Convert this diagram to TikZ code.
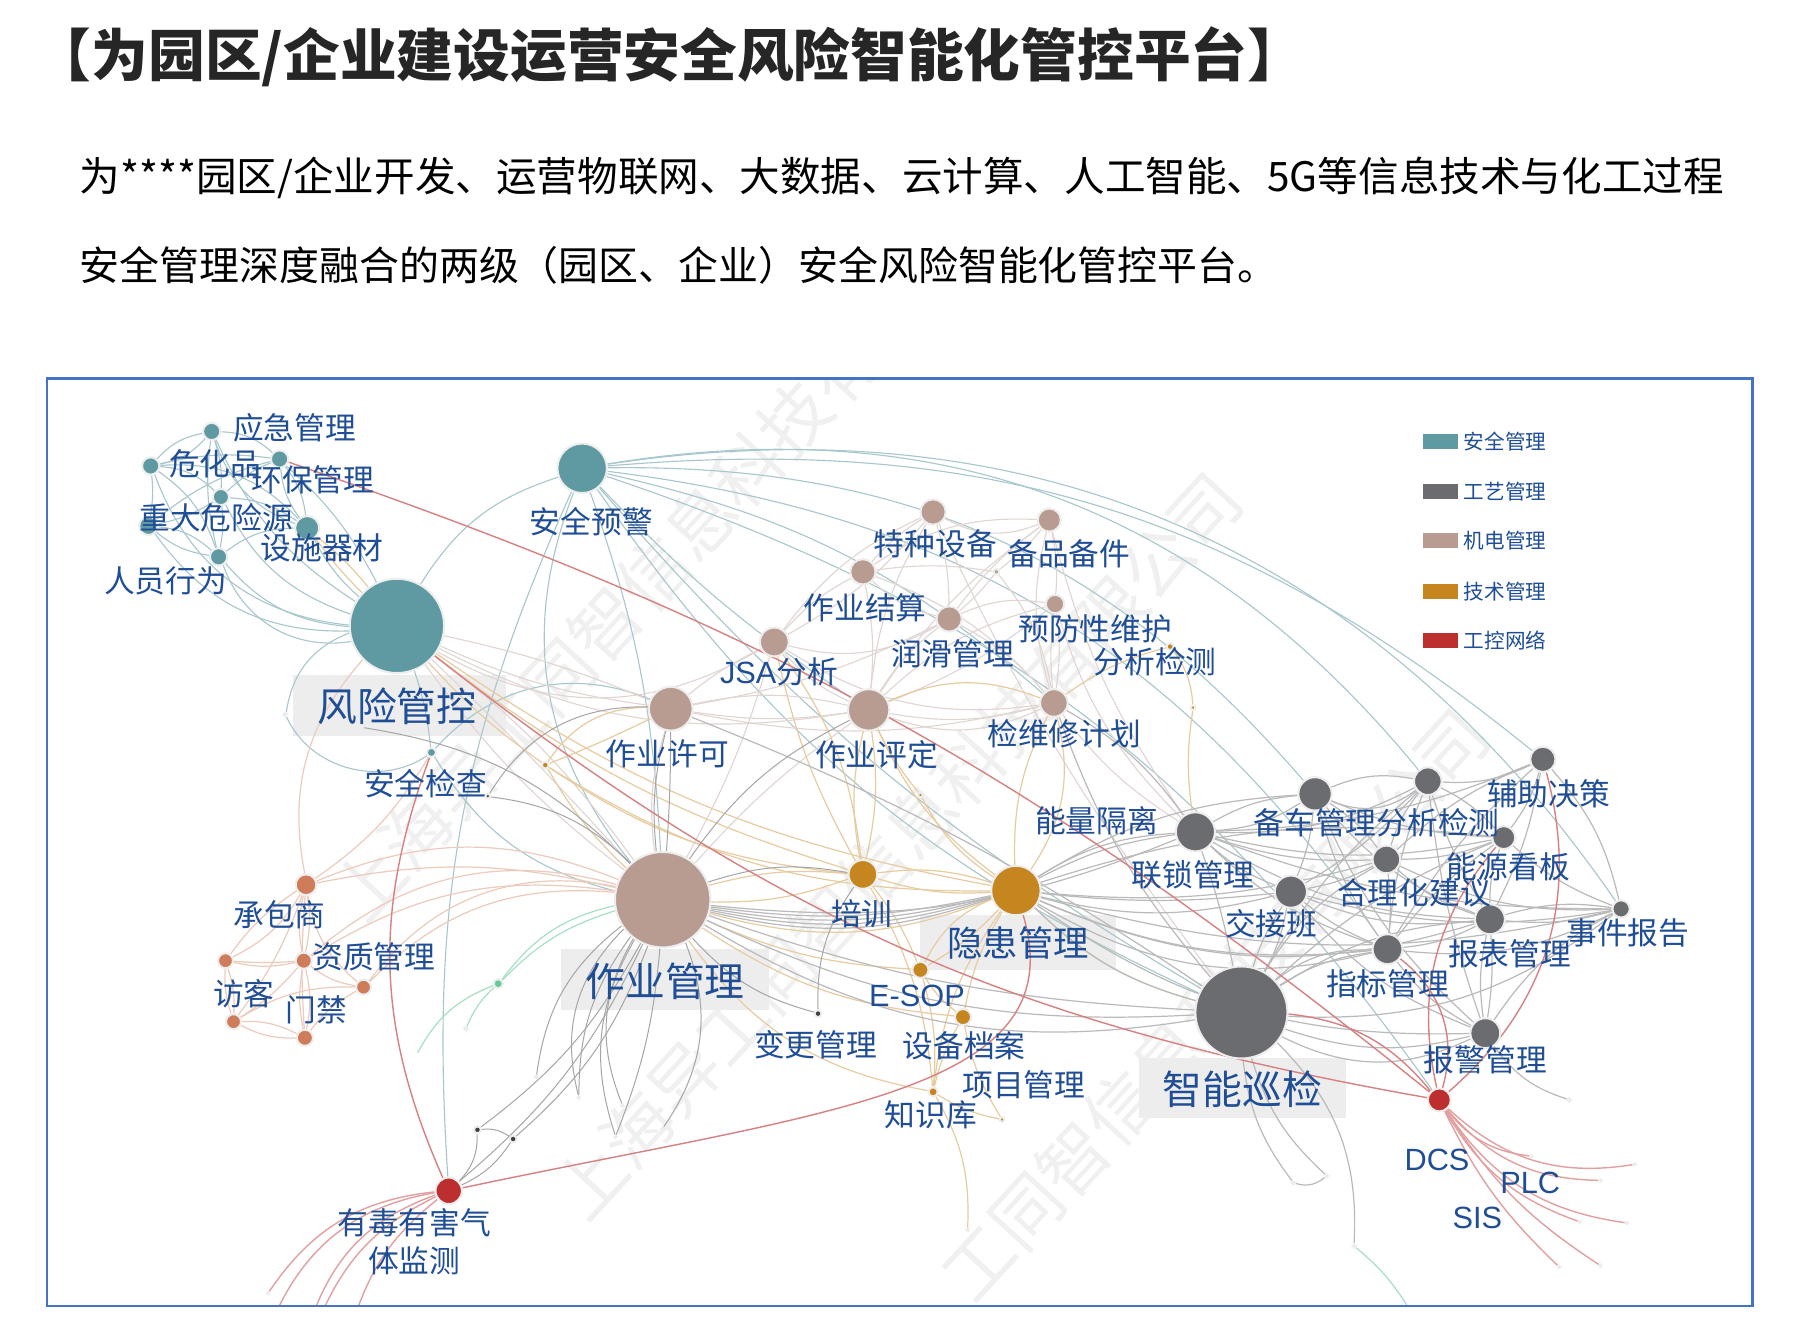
\documentclass[tikz,border=0pt]{standalone}
\usepackage{fontspec}
\usepackage{tikz}
\usetikzlibrary{backgrounds}
\setmainfont{Noto Sans CJK SC}
\newfontfamily\labsans{Liberation Sans}
\definecolor{safeteal}{HTML}{5F9AA3}
\definecolor{procgray}{HTML}{6B6C70}
\definecolor{mechbrown}{HTML}{B89C92}
\definecolor{techgold}{HTML}{C6861F}
\definecolor{ctrlred}{HTML}{BD2E2E}
\definecolor{pinknode}{HTML}{CF7C5A}
\definecolor{inkblue}{HTML}{1F4E96}
\definecolor{framblue}{HTML}{4472C4}
\tikzset{
  dot/.style={circle,inner sep=0pt,draw=black!7,line width=1pt},
  lab/.style={text=inkblue,font=\fontsize{15.2}{15}\selectfont,inner sep=0pt},
  biglab/.style={text=inkblue,font=\fontsize{19.7}{20}\selectfont,inner sep=0pt},
  legtext/.style={text=inkblue,font=\fontsize{10.2}{10}\selectfont,inner sep=0pt,anchor=west},
  tealedge/.style={draw=safeteal!55,line width=0.55pt},
  grayedge/.style={draw=black!27,line width=0.6pt},
  mechedge/.style={draw=mechbrown!42,line width=0.55pt},
  techedge/.style={draw=techgold!42,line width=0.6pt},
  pinkedge/.style={draw=pinknode!40,line width=0.6pt},
  rededge/.style={draw=ctrlred!60,line width=0.7pt},
  greenedge/.style={draw=green!30!teal!35,line width=0.6pt},
  darkedge/.style={draw=black!35,line width=0.5pt}
}
\begin{document}
\begin{tikzpicture}[x=0.02cm,y=-0.02cm]
\useasboundingbox (0,0) rectangle (1568,1157);
% main nodes
\foreach \nm/\xx/\yy/\rr/\cl in {
  risk/345/544/41/safeteal, warn/506/407/21.5/safeteal, emerg/184/375/7.5/safeteal,
  hazchem/131/405/7.5/safeteal, env/243/399/7.5/safeteal, major/129/457/8/safeteal,
  midteal/192/432/7/safeteal, facil/267/459/10.5/safeteal, people/190/484/7.5/safeteal,
  check/375/654/4/safeteal, tinyteal/248/621/1.5/safeteal,
  work/576/782/41.5/mechbrown, spec/811/445/11/mechbrown, parts/912/452/10/mechbrown,
  settle/750/497/11/mechbrown, lube/825/538/11/mechbrown, prev/917/525/8/mechbrown,
  jsa/673/558/12.5/mechbrown, permit/583/616/19/mechbrown, assess/755/617/18/mechbrown,
  maint/916/611/12/mechbrown, tinymech/866/497/2.5/mechbrown,
  hidden/883/774/21.5/techgold, train/750/760/12.5/techgold, esop/800/843/7/techgold,
  archive/837/884/7/techgold, know/811/949/4/techgold, ta/474/665/3/techgold,
  tb/1017/562/3/techgold, tc/1037/615/2/techgold, td/800/691/2/techgold,
  te/871/973/2/techgold, tf/841/1069/1/techgold,
  inspect/1079/880/40/procgray, lock/1039/723/17/procgray, spare/1143/690/14.5/procgray,
  ana/1241/679/12/procgray, aux/1341/660/11/procgray, board/1307/728/10/procgray,
  ratio/1205/747/12/procgray, shift/1122/775/14/procgray, report/1295/799/13/procgray,
  index/1206/825/13/procgray, event/1409/790/7.5/procgray, alarm/1291/898/13/procgray,
  ga/1124/1028/1.5/procgray, gb/1153/1022/1.5/procgray, gc/1364/956/1.5/procgray,
  gd/1177/1083/1.5/procgray,
  contractor/266/769/9/pinknode, visitor/196/835/6.5/pinknode, qual/264/835/7/pinknode,
  gate/316/858/6.5/pinknode, pa/203/888/6.5/pinknode, pb/265/902/7/pinknode,
  dcs/1251/956/10/ctrlred, gas/390/1035/11.5/ctrlred,
  da/415/982/3/black!75, db/446/990/3/black!75, dc/711/881/3/black!75,
  dd/424/692/2/black!75, de/314/632/1.5/black!75,
  greena/433/855/4/green!30!teal!60, greenb/405/894/1.5/green!30!teal!60,
  wa/466/936/1/black!40, wb/503/954/1/black!40, wc/541/961/1/black!40,
  wd/535/988/1/black!40, we/576/981/1/black!40,
  fa/1331/1005/1/ctrlred!70, fb/1421/1012/1/ctrlred!70, fc/1391/1026/1/ctrlred!70,
  fd/1373/1062/1/ctrlred!70, fe/1414/1063/1/ctrlred!70, ff/1391/1100/1/ctrlred!70,
  fg/1355/1101/1/ctrlred!70, gfa/233/1124/1/ctrlred!70
  }{
  \node[dot,fill=\cl,minimum size=\rr*0.04cm] (\nm) at (\xx,\yy) {};
}
\coordinate (gfb) at (238,1145);
\coordinate (gfc) at (271,1145);
\coordinate (gfd) at (278,1145);
\coordinate (gfe) at (308,1145);
\coordinate (greenc) at (1229,1145);
\coordinate (greend) at (363,915);
\begin{scope}[on background layer]
\fill[white] (0,0) rectangle (1568,1157);
\clip (41,329) rectangle (1523,1135);
% watermark
\foreach \wx/\wy/\tx in {588/476/上海异工同智信息科技有限公司,780/735/上海异工同智信息科技有限公司,1056/873/工同智信息科技有限公司}{
  \node[rotate=47.5,text=black!6,font=\fontsize{34.6}{35}\selectfont,inner sep=0pt] (wm\wx) at (\wx,\wy) {\tx};
}
% label plates
\fill[black!7] (255,587) rectangle (440,640);
\fill[black!7] (488,825) rectangle (668,878);
\fill[black!7] (800,795) rectangle (970,843);
\fill[black!7] (990,920) rectangle (1170,972);
% teal links
\foreach \aa/\bb/\bn in {
  warn/risk/-20, warn/gas/-14, warn/work/-30, warn/work/8, warn/inspect/-15, warn/inspect/-9,
  warn/dcs/18, warn/ana/30, warn/event/32, warn/aux/22, warn/spare/25, warn/index/24,
  warn/assess/-6, warn/maint/14,
  risk/people/22, risk/major/28, risk/hazchem/32, risk/midteal/22, risk/emerg/16, risk/env/-10, risk/facil/10,
  risk/people/40, risk/tinyteal/-30, tinyteal/check/-50, risk/check/6, check/permit/35, check/work/-22,
  emerg/hazchem/-18, emerg/hazchem/18, emerg/env/20, emerg/midteal/10, emerg/facil/-25, hazchem/midteal/20,
  hazchem/major/8, hazchem/people/18, hazchem/facil/25, env/facil/-15, env/facil/15, env/midteal/-10, midteal/people/8,
  midteal/major/10, major/people/18, major/people/-15, facil/people/-18, midteal/facil/15, env/hazchem/-10,
  emerg/people/-10, env/major/-12}{
  \draw[tealedge] (\aa) to[bend left=\bn] (\bb);
}
% mech links
\foreach \aa/\bb/\bn in {
  spec/parts/-25, spec/settle/-8, spec/lube/8, spec/assess/-12, spec/jsa/-14, parts/lube/-8, parts/prev/8,
  parts/maint/-15, parts/settle/-18, parts/assess/-10, settle/lube/-15, settle/jsa/-10, settle/assess/8,
  settle/maint/14, lube/assess/-10, lube/maint/10, lube/prev/16, prev/maint/-6, prev/maint/8, prev/assess/-14,
  jsa/permit/-6, jsa/assess/-12, jsa/work/6, permit/assess/12, permit/assess/-8, permit/work/-12, assess/work/-6,
  assess/maint/-22, assess/maint/-12, tinymech/settle/-8, tinymech/maint/14, tinymech/lube/6, tinymech/parts/-6,
  maint/lock/-10, parts/lock/-10, prev/lock/-14, spec/inspect/-6,
  risk/jsa/-30, risk/assess/-18, risk/permit/5, risk/permit/-8, risk/work/8, risk/work/-8, risk/work/2,
  jsa/lube/-22, jsa/spec/-10, permit/maint/-12, permit/lube/-8, assess/prev/-8, jsa/maint/-20}{
  \draw[mechedge] (\aa) to[bend left=\bn] (\bb);
}
% tech links
\foreach \aa/\bb/\bn in {
  facil/risk/-4, facil/risk/6, ta/permit/-2, ta/permit/28, ta/risk/6, ta/train/-14, ta/hidden/-16, ta/work/-8,
  risk/train/-10, risk/hidden/-12, jsa/train/14, jsa/train/-8, assess/train/-12, assess/train/10, assess/hidden/-14,
  assess/td/-6, td/hidden/-14, train/work/10, train/work/-10, train/esop/8, train/know/12, hidden/train/-12, hidden/train/10,
  hidden/esop/8, hidden/archive/-10, hidden/know/-14, hidden/maint/-24, hidden/maint/14, hidden/esop/-20,
  archive/know/-8, esop/know/10, esop/archive/-10, work/know/-22, work/archive/-14, work/esop/-10,
  work/hidden/-18, know/te/-10, archive/te/-10, know/tf/16, tc/lock/-8, tc/tb/-16, tb/maint/-10, inspect/hidden/14, maint/assess/-22}{
  \draw[techedge] (\aa) to[bend left=\bn] (\bb);
}
% gray links
\foreach \aa/\bb/\bn in {
  work/hidden/-14, work/hidden/-12, work/hidden/-10, work/hidden/-16, work/inspect/-8, work/inspect/-14, work/inspect/-20,
  work/lock/-14, hidden/lock/10, hidden/lock/14, hidden/shift/-14, hidden/shift/-6, hidden/ratio/-10, hidden/index/-14, hidden/index/-22,
  hidden/report/-20, hidden/event/-14, hidden/alarm/-18, hidden/inspect/-14, hidden/spare/14, hidden/board/12,
  inspect/index/12, inspect/index/20, inspect/report/14, inspect/shift/-8, inspect/shift/8, inspect/alarm/-16, inspect/alarm/-26,
  inspect/lock/-4, inspect/ratio/14, inspect/board/10, inspect/event/-20, inspect/ana/10, lock/spare/-14, lock/spare/12,
  lock/ana/-14, lock/aux/-10, lock/shift/-10, lock/ratio/-10, lock/index/-12, lock/report/-14, lock/event/-10, lock/board/-12,
  spare/ana/-30, spare/ana/16, spare/ratio/10, spare/shift/8, spare/index/-10, spare/board/-10, spare/report/-14, spare/alarm/-12,
  ana/aux/-14, ana/board/10, ana/ratio/-10, ana/shift/8, ana/index/-8, ana/report/-6, ana/alarm/-6,
  aux/board/10, aux/ratio/-10, aux/report/8, aux/index/-8, aux/event/14, board/report/-10, board/ratio/10, board/index/-8, board/event/-10,
  ratio/shift/8, ratio/index/6, ratio/report/-12, ratio/event/-14, shift/index/-8, shift/report/-14, shift/event/-12, shift/alarm/-14,
  report/event/-10, report/event/12, report/alarm/6, report/alarm/-10, report/index/10, index/alarm/-12, index/event/-16, event/alarm/-14,
  alarm/gc/-18, inspect/ga/-15, inspect/gb/-15, ga/gb/-28, inspect/gd/24, maint/lock/12, maint/inspect/-10, permit/inspect/6}{
  \draw[grayedge] (\aa) to[bend left=\bn] (\bb);
}
% dark links
\foreach \aa/\bb/\bn in {
  work/wa/-22, work/wb/-18, work/wb/-30, work/wc/-26, work/wd/-24, work/wd/8, work/we/28, work/da/12, work/db/14,
  gas/da/-22, gas/db/-15, gas/work/-12, da/db/20,
  work/dc/-16, train/dc/-18, permit/work/2, permit/work/-10, de/work/18, dd/work/18, dd/permit/30, assess/work/-14, train/work/-14}{
  \draw[darkedge] (\aa) to[bend left=\bn] (\bb);
}
% pink links
\foreach \aa/\bb/\bn in {
  contractor/visitor/16, contractor/visitor/-10, contractor/qual/10, contractor/qual/-12, contractor/gate/-20, contractor/pa/8, contractor/pb/-4,
  visitor/qual/-12, visitor/qual/-4, visitor/pa/10, visitor/pa/-10, qual/gate/-14, qual/pa/8, qual/pb/12, gate/pa/-16, gate/pb/-12, pa/pb/14, pa/pb/-14,
  qual/pb/-10, risk/contractor/-26, contractor/check/-12, work/contractor/-12, work/contractor/-22, work/qual/-20, work/qual/-28, work/gate/-25, work/gate/-32}{
  \draw[pinkedge] (\aa) to[bend left=\bn] (\bb);
}
% green links
\foreach \aa/\bb/\bn in {greena/work/20, greena/work/14, greena/greenb/-12, greena/greend/-20, gd/greenc/10}{
  \draw[greenedge] (\aa) to[bend left=\bn] (\bb);
}
% red links
\draw[rededge] (env) to[bend left=10] (dcs);
\draw[rededge] (risk) to[bend right=14] (dcs);
\draw[rededge] (gas) .. controls (720,965) and (935,950) .. (hidden);
\draw[rededge] (gas) to[bend left=22] (check);
\draw[rededge] (dcs) to[bend right=32] (aux);
\draw[rededge] (dcs) to[bend right=34] (index);
\draw[rededge] (dcs) to[bend right=22] (inspect);
\draw[rededge] (dcs) to[bend left=26] (board);
\foreach \aa/\bn in {fa/22,fb/26,fc/24,fd/20,fe/24,ff/12,fg/10}{
  \draw[rededge,draw=ctrlred!45] (dcs) to[bend right=\bn] (\aa);
}
\foreach \aa/\bn in {gfa/25,gfb/28,gfc/25,gfd/20,gfe/16}{
  \draw[rededge,draw=ctrlred!45] (gas) to[bend right=\bn] (\aa);
}
\end{scope}
% heading text
\node[anchor=west,inner sep=0pt,text=black!85,font=\fontsize{28.05}{27}\selectfont\bfseries] (title) at (30,49) {【为园区/企业建设运营安全风险智能化管控平台】};
\node[anchor=west,inner sep=0pt,font=\fontsize{20.08}{20}\selectfont] (bodya) at (69,154.5) {为****园区/企业开发、运营物联网、大数据、云计算、人工智能、5G等信息技术与化工过程};
\node[anchor=west,inner sep=0pt,font=\fontsize{19.75}{20}\selectfont] (bodyb) at (69,231) {安全管理深度融合的两级（园区、企业）安全风险智能化管控平台。};
% frame
\draw[framblue,line width=1.3pt] (41,329) rectangle (1523,1135);
% legend
\foreach \ly/\cl/\tx in {384/safeteal/安全管理,427/procgray/工艺管理,470/mechbrown/机电管理,514/techgold/技术管理,557/ctrlred/工控网络}{
  \fill[\cl] (1237,\ly-6.5) rectangle (1267,\ly+6.5);
  \node[legtext] (leg\ly) at (1272,\ly) {\tx};
}
% labels
\foreach \tx/\xx/\yy in {
  应急管理/256/372, 危化品/187/403, 环保管理/272/417, 重大危险源/188/450, 设施器材/280/476, 人员行为/144/505,
  安全预警/514/453, 安全检查/370/681, 特种设备/813/473, 备品备件/929/481, 作业结算/752/528, 润滑管理/828/568,
  预防性维护/952/547, 分析检测/1004/575, {{\labsans JSA}分析}/677/584, 作业许可/580/655, 作业评定/762/656, 检维修计划/925/638,
  能量隔离/953/713, 备车管理/1143/715, 分析检测/1250/715, 辅助决策/1346/690, 能源看板/1311/753, 联锁管理/1037/760,
  合理化建议/1229/776, 交接班/1105/803, 报表管理/1312/829, 事件报告/1415/811, 指标管理/1206/855, 报警管理/1291/921,
  培训/749/794, {\labsans E-SOP}/797/866, 变更管理/709/908, 设备档案/838/909, 项目管理/890/943, 知识库/809/969,
  承包商/243/795, 资质管理/325/832, 访客/212/864, 门禁/275/878, {\labsans DCS}/1249/1008, {\labsans PLC}/1330/1028, {\labsans SIS}/1284/1059,
  有毒有害气/360/1063, 体监测/360/1096}{
  \node[lab] at (\xx,\yy) {\tx};
}
\node[biglab] (lrisk) at (345,614) {风险管控};
\node[biglab] (lwork) at (578,853) {作业管理};
\node[biglab,font=\fontsize{17.5}{18}\selectfont] (lhidden) at (885,820) {隐患管理};
\node[biglab] (linspect) at (1080,947) {智能巡检};
\end{tikzpicture}
\end{document}
